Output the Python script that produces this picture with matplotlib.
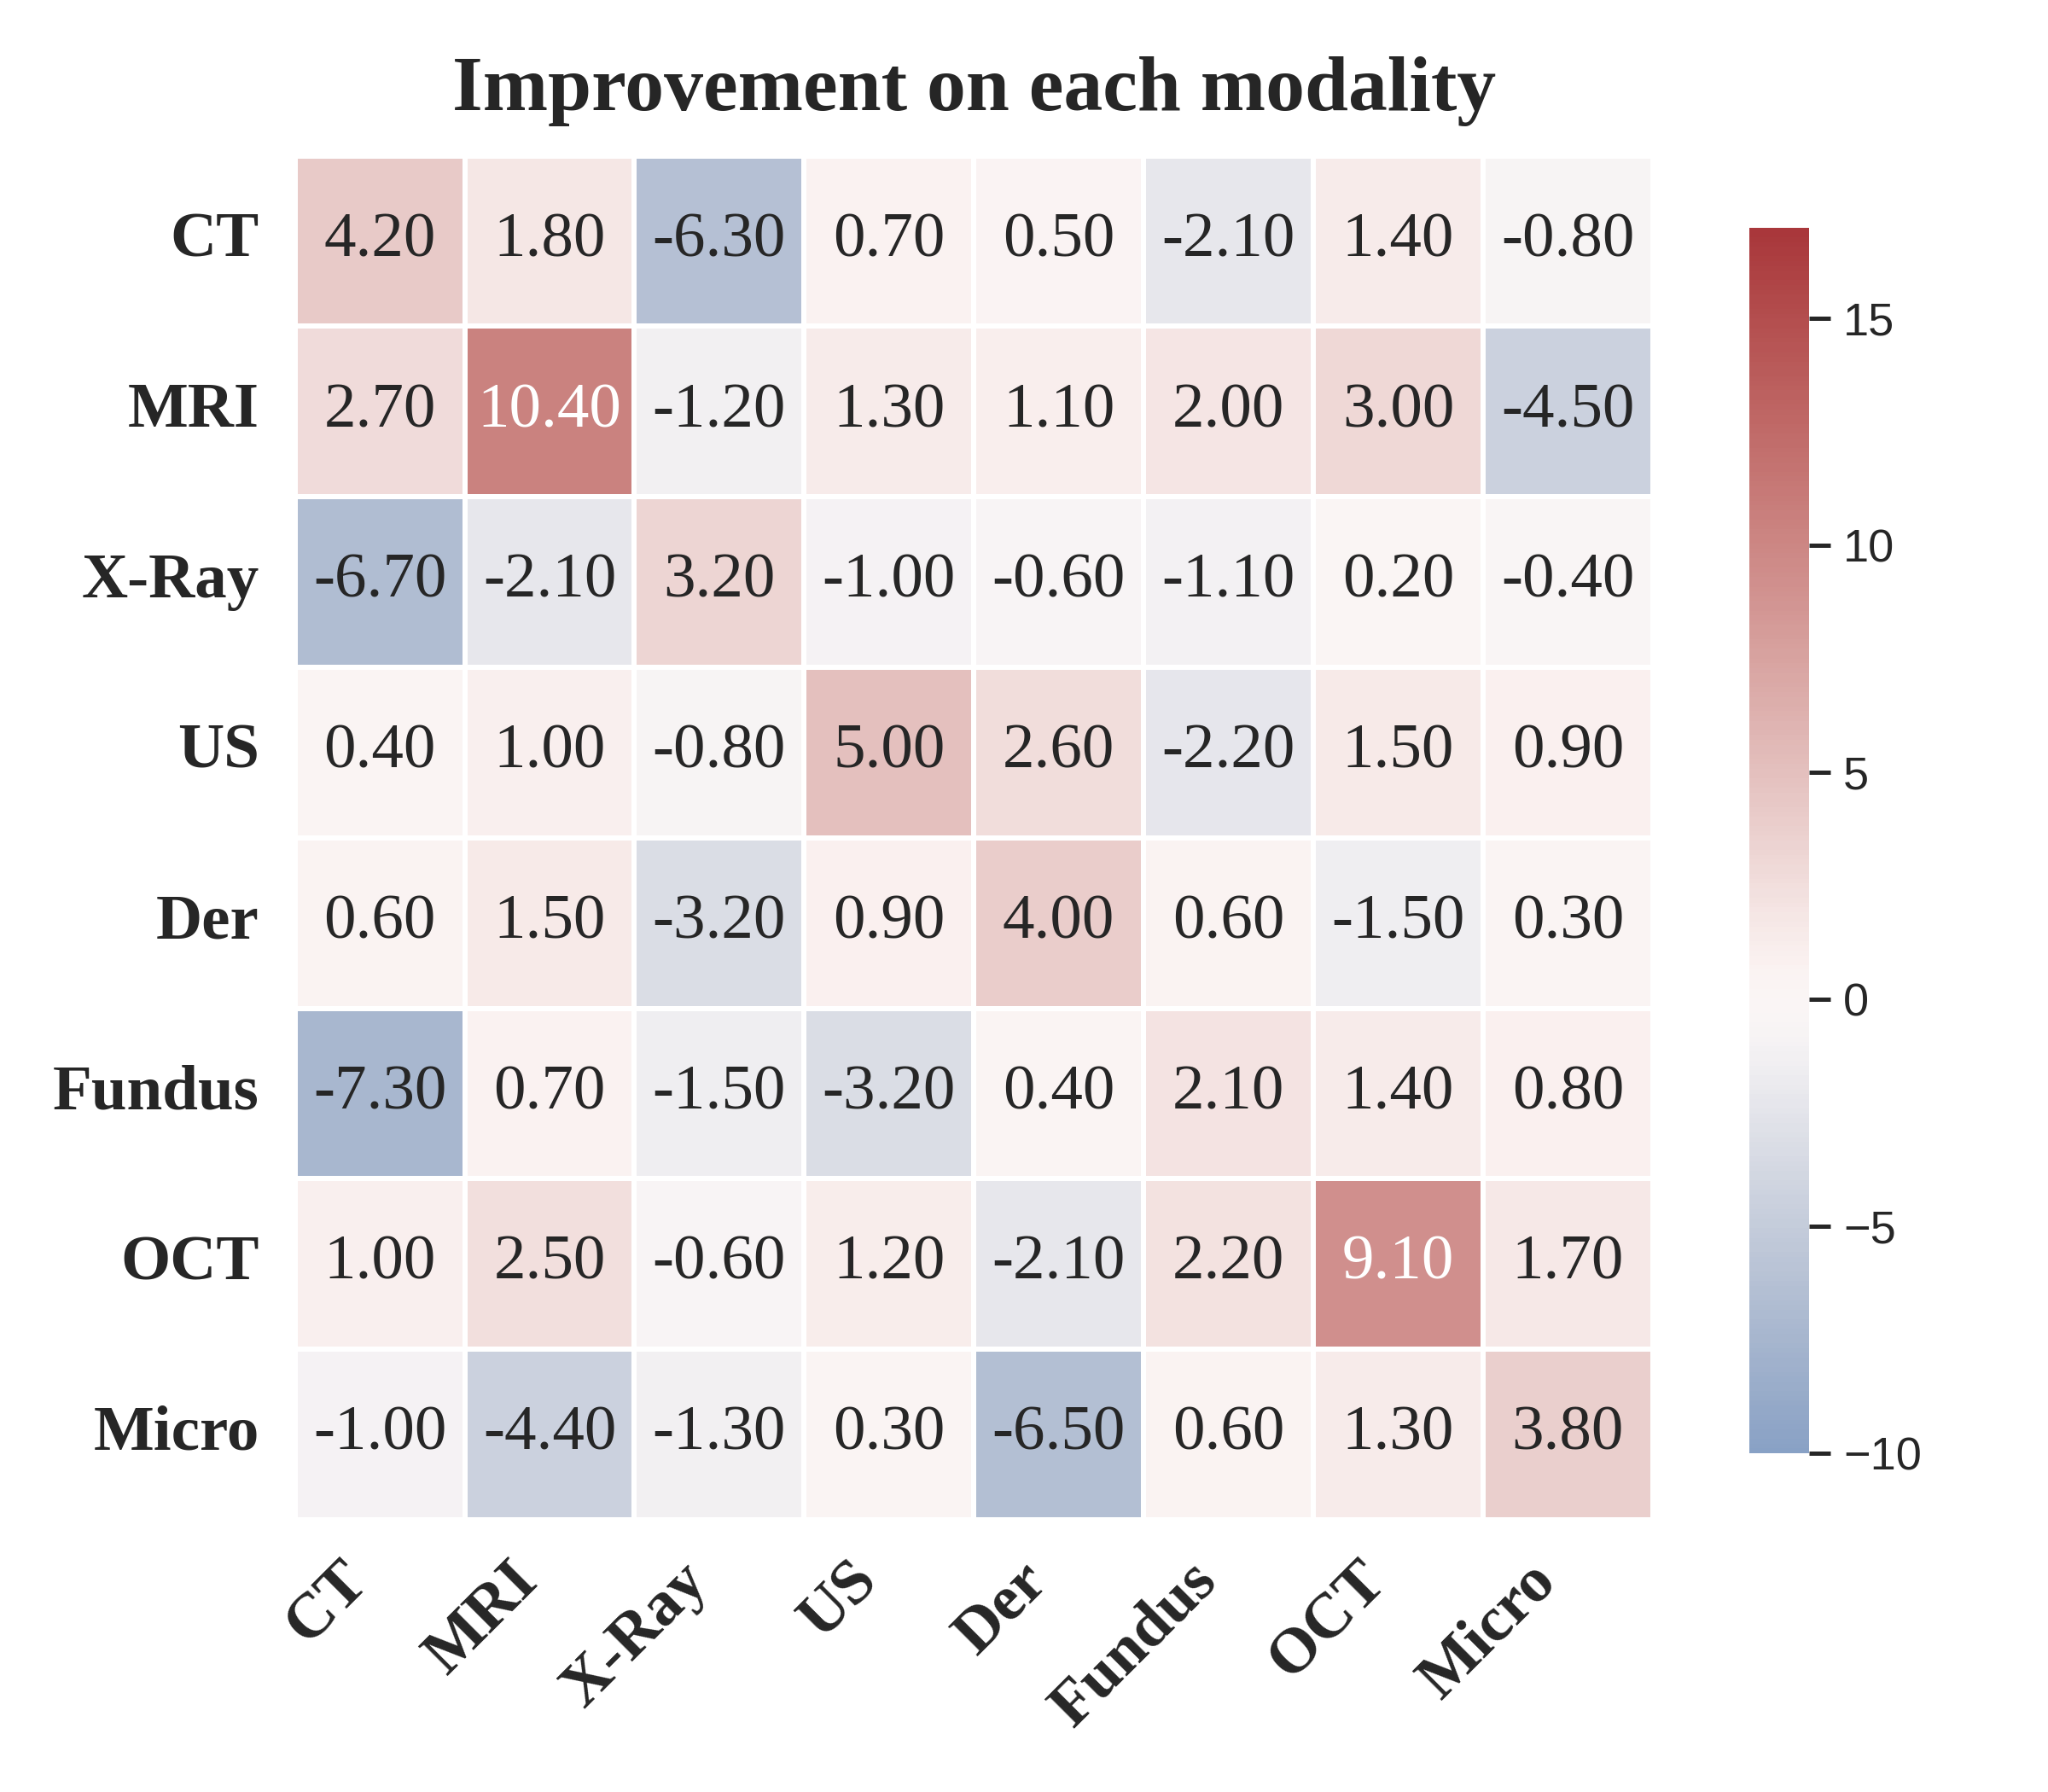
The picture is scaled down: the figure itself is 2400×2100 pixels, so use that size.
import numpy as np
import matplotlib
matplotlib.use("Agg")
import matplotlib.pyplot as plt
import seaborn as sns

# modalities (rows = trained on, cols = evaluated on)
modalities = ["CT", "MRI", "X-Ray", "US", "Der", "Fundus", "OCT", "Micro"]

ct     = [4.20, 1.80, -6.30, 0.70, 0.50, -2.10, 1.40, -0.80]
mri    = [2.70, 10.40, -1.20, 1.30, 1.10, 2.00, 3.00, -4.50]
xray   = [-6.70, -2.10, 3.20, -1.00, -0.60, -1.10, 0.20, -0.40]
us     = [0.40, 1.00, -0.80, 5.00, 2.60, -2.20, 1.50, 0.90]
der    = [0.60, 1.50, -3.20, 0.90, 4.00, 0.60, -1.50, 0.30]
fundus = [-7.30, 0.70, -1.50, -3.20, 0.40, 2.10, 1.40, 0.80]
oct_   = [1.00, 2.50, -0.60, 1.20, -2.10, 2.20, 9.10, 1.70]
micro  = [-1.00, -4.40, -1.30, 0.30, -6.50, 0.60, 1.30, 3.80]

data = np.array([ct, mri, xray, us, der, fundus, oct_, micro])

sns.set_theme(style="white")
plt.rcParams['font.family'] = ['Liberation Serif', 'DejaVu Serif']
plt.rcParams['text.color'] = '#262626'

fig = plt.figure(figsize=(8, 7), dpi=300)
ax = fig.add_axes([0.144, 0.152, 0.663, 0.761])
cax = fig.add_axes([0.854, 0.189, 0.0295, 0.684])

sns.heatmap(data, ax=ax, cbar_ax=cax, cmap="vlag", center=0, vmin=-10, vmax=17,
            annot=True, fmt=".2f", annot_kws={"size": 18},
            linewidths=1, linecolor="white",
            xticklabels=modalities, yticklabels=modalities)

ax.set_title("Improvement on each modality", fontsize=22, fontweight="bold", pad=13)
ax.tick_params(axis="y", length=0, pad=10)
ax.tick_params(axis="x", length=0, pad=9)
plt.setp(ax.get_yticklabels(), rotation=0, fontsize=18, fontweight="bold")
plt.setp(ax.get_xticklabels(), rotation=45, ha="right", rotation_mode="default",
         fontsize=18, fontweight="bold")

cax.tick_params(labelsize=13, length=6, width=1.2, right=True, color='#262626')
for t in cax.get_yticklabels():
    t.set_fontfamily("Liberation Sans")

fig.savefig("out.png", dpi=300)
